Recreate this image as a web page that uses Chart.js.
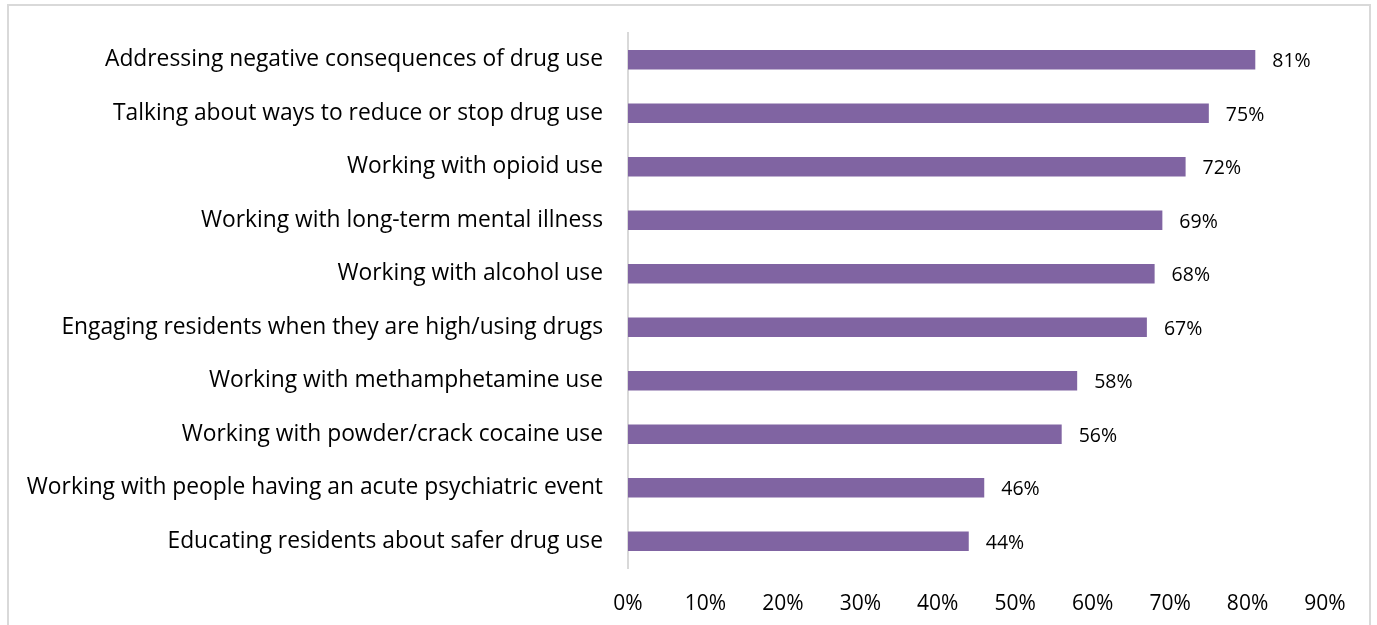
<!DOCTYPE html>
<html>
<head>
<meta charset="utf-8">
<script src="https://cdn.jsdelivr.net/npm/chart.js@4/dist/chart.umd.min.js"></script>
<style>
    html, body { margin: 0; padding: 0; background: #fff; overflow: hidden; }
    #wrap { position: relative; width: 1377px; height: 625px; }
    #frame {
        position: absolute; left: 7px; top: 4px; width: 1364px; height: 660px;
        border: 2px solid #d9d9d9; box-sizing: border-box;
    }
    #chart { position: absolute; left: 0; top: 0; }
</style>
</head>
<body>
<div id="wrap">
    <div id="frame"></div>
    <canvas id="chart" width="1377" height="625"></canvas>
</div>
<script>
const categories = [
    'Addressing negative consequences of drug use',
    'Talking about ways to reduce or stop drug use',
    'Working with opioid use',
    'Working with long-term mental illness',
    'Working with alcohol use',
    'Engaging residents when they are high/using drugs',
    'Working with methamphetamine use',
    'Working with powder/crack cocaine use',
    'Working with people having an acute psychiatric event',
    'Educating residents about safer drug use',
];
const percentages = [81, 75, 72, 69, 68, 67, 58, 56, 46, 44];
const tickValues = [0, 10, 20, 30, 40, 50, 60, 70, 80, 90];

const fontFamily = '"Open Sans", "Noto Sans", sans-serif';
const textColor = '#000';

// value labels just past the end of each bar
const barValueLabels = {
    id: 'barValueLabels',
    afterDatasetsDraw(chart) {
        const { ctx } = chart;
        const meta = chart.getDatasetMeta(0);
        ctx.save();
        ctx.font = `19.5px ${fontFamily}`;
        ctx.fillStyle = textColor;
        ctx.textAlign = 'left';
        ctx.textBaseline = 'middle';
        meta.data.forEach((bar, i) => {
            ctx.fillText(percentages[i] + '%', bar.x + 17, bar.y + 2);
        });
        ctx.restore();
    },
};

new Chart(document.getElementById('chart'), {
    type: 'bar',
    data: {
        labels: categories,
        datasets: [
            {
                data: percentages,
                backgroundColor: '#8064a2',
                borderWidth: 0,
                barPercentage: 0.72,
                categoryPercentage: 0.5,
            },
        ],
    },
    options: {
        indexAxis: 'y',
        responsive: false,
        animation: false,
        layout: {
            padding: { top: 33, right: 52, left: 0, bottom: 0 },
        },
        plugins: {
            legend: { display: false },
            tooltip: { enabled: false },
        },
        scales: {
            x: {
                min: 0,
                max: 90,
                afterBuildTicks(scale) {
                    scale.ticks = tickValues.map((v) => ({ value: v }));
                },
                afterFit(scale) {
                    scale.height = 57;
                },
                ticks: {
                    color: textColor,
                    font: { family: fontFamily, size: 21 },
                    padding: 23,
                    callback: (v) => v + '%',
                },
                grid: { display: false, drawTicks: false },
                border: { display: false },
            },
            y: {
                afterFit(scale) {
                    scale.width = 628;
                    scale.paddingTop = 0;
                    scale.paddingBottom = 0;
                },
                ticks: {
                    color: textColor,
                    font: { family: fontFamily, size: 22.8 },
                    padding: 25,
                },
                grid: { display: false, drawTicks: false },
                border: { display: true, color: '#d9d9d9', width: 2 },
            },
        },
    },
    plugins: [barValueLabels],
});
</script>
</body>
</html>
